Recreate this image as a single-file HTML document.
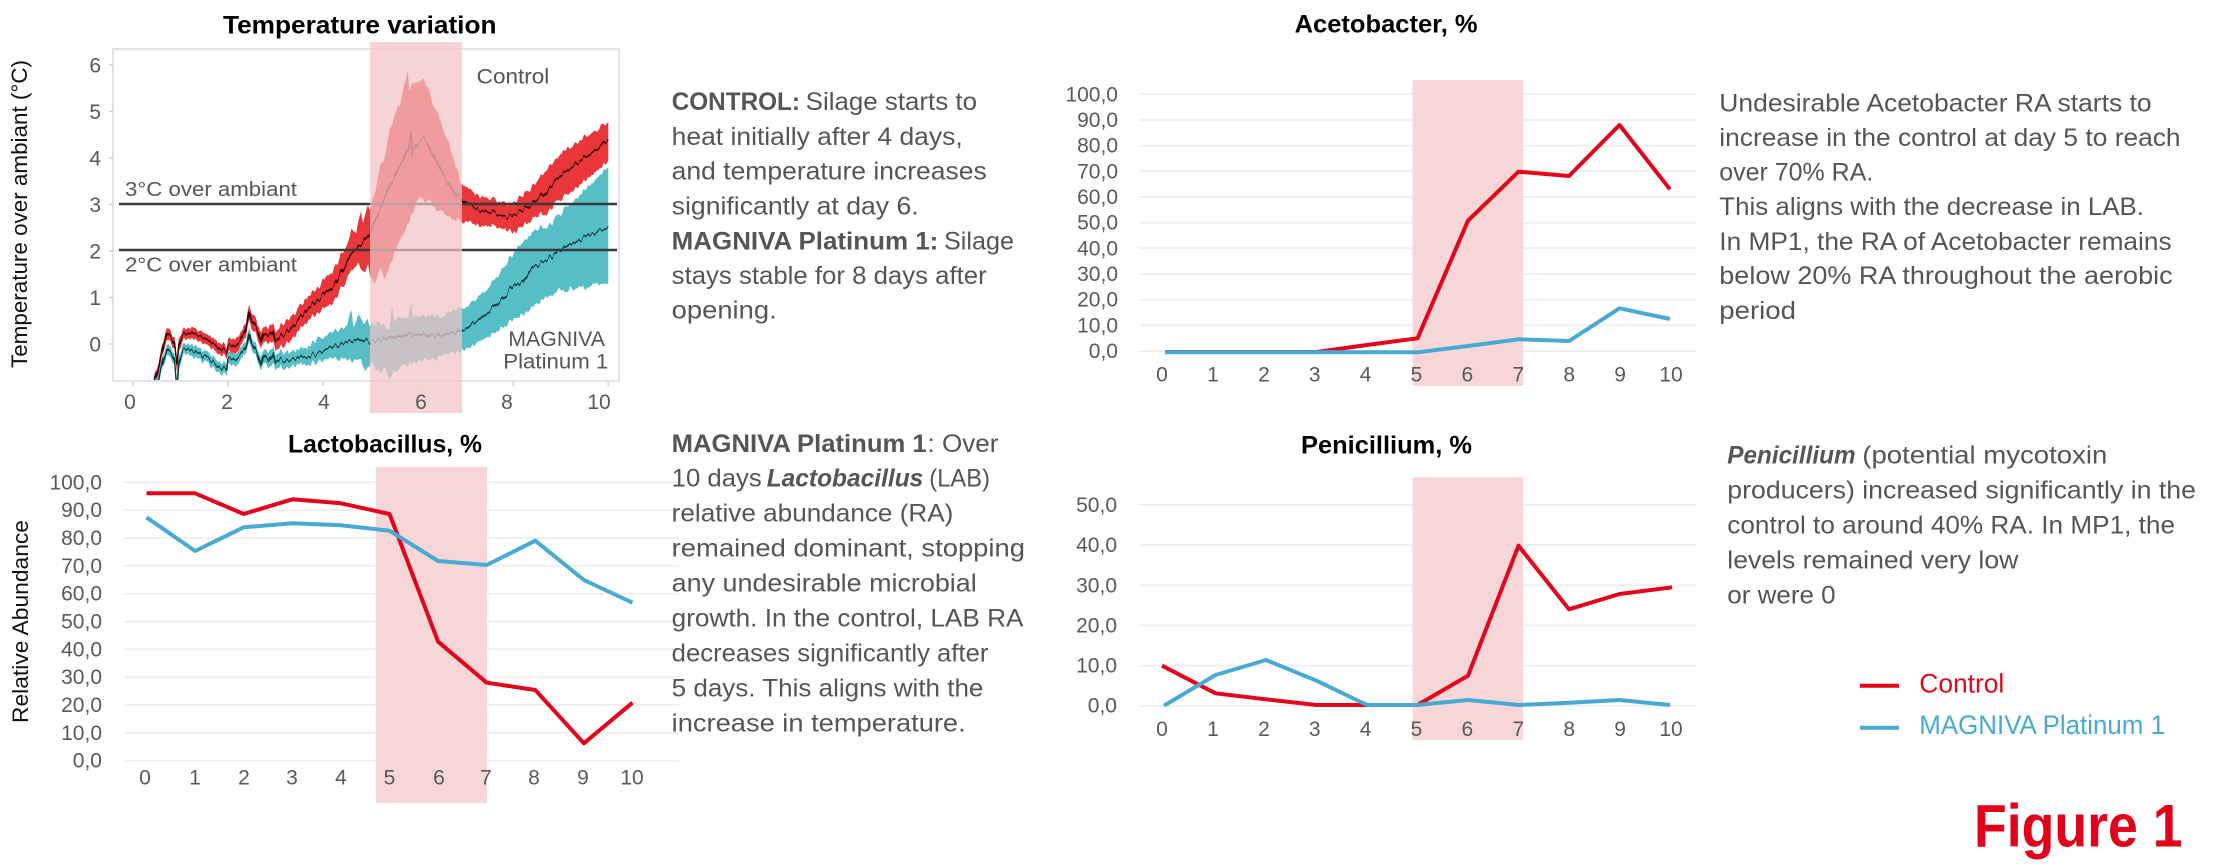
<!DOCTYPE html>
<html>
<head>
<meta charset="utf-8">
<style>
html,body{margin:0;padding:0;background:#ffffff;}
svg{display:block;}
</style>
</head>
<body>
<svg xmlns="http://www.w3.org/2000/svg" width="2224" height="866" viewBox="0 0 2224 866" font-family="'Liberation Sans', Arial, sans-serif">
<defs>
  <clipPath id="tclip" clipPathUnits="userSpaceOnUse">
    <rect x="114" y="50" width="504" height="330"/>
  </clipPath>
  <filter id="jag" x="-5%" y="-20%" width="110%" height="140%" color-interpolation-filters="sRGB">
    <feTurbulence type="fractalNoise" baseFrequency="0.35 0.012" numOctaves="1" seed="3" result="n"/>
    <feColorMatrix in="n" type="matrix" values="0 0 0 0 0.5  0 1 0 0 0  0 0 1 0 0  0 0 0 0 1" result="m"/>
    <feDisplacementMap in="SourceGraphic" in2="m" scale="12" xChannelSelector="R" yChannelSelector="G"/>
  </filter>
</defs>
<rect x="0" y="0" width="2224" height="866" fill="#ffffff"/>

<!-- ================= TEMPERATURE CHART ================= -->
<text x="223" y="33.3" font-size="25" font-weight="700" fill="#000" textLength="273.5" lengthAdjust="spacingAndGlyphs">Temperature variation</text>
<text transform="translate(27,214) rotate(-90)" text-anchor="middle" font-size="22" fill="#111" textLength="308" lengthAdjust="spacingAndGlyphs">Temperature over ambiant (°C)</text>

<rect x="113" y="49" width="506" height="332" fill="none" stroke="#e3e3e3" stroke-width="2"/>
<g stroke="#cfcfcf" stroke-width="1.5">
  <path d="M132.7 382V386 M227.8 382V386 M322.9 382V386 M418 382V386 M513.2 382V386 M608.3 382V386"/>
  <path d="M109 65H113 M109 111.5H113 M109 158H113 M109 204.5H113 M109 251H113 M109 297.5H113 M109 344H113"/>
</g>
<g font-size="21" fill="#595959" text-anchor="end">
  <text x="101" y="72.5">6</text>
  <text x="101" y="119">5</text>
  <text x="101" y="165.5">4</text>
  <text x="101" y="212">3</text>
  <text x="101" y="258.5">2</text>
  <text x="101" y="305">1</text>
  <text x="101" y="351.5">0</text>
</g>

<g clip-path="url(#tclip)">
 <g filter="url(#jag)">
  <g transform="translate(132.7 344) scale(47.56 -46.5)">
    <polygon fill="#e8363b" points="0.45,-0.75 0.55,-0.38 0.65,0.12 0.72,0.36 0.8,0.28 0.88,0.12 0.93,-0.25 0.97,0.12 1.05,0.3 1.15,0.36 1.3,0.34 1.5,0.24 1.7,0.12 1.9,0 1.98,-0.08 2,0.1 2.1,0.1 2.25,0.2 2.38,0.45 2.45,0.92 2.5,0.68 2.6,0.5 2.7,0.22 2.75,0.42 2.85,0.32 2.95,0.5 3,0.25 3.1,0.37 3.3,0.55 3.5,0.8 3.75,1.05 4,1.35 4.25,1.65 4.4,1.95 4.5,2.1 4.6,2.5 4.7,2.4 4.8,2.9 4.85,2.6 4.95,3 5,2.9 5.1,3.3 5.2,3.8 5.3,4 5.4,4.6 5.5,4.9 5.6,5.1 5.7,5.5 5.78,5.85 5.82,5.5 5.9,5.6 6,5.65 6.1,5.68 6.2,5.55 6.3,5.2 6.5,4.7 6.75,4 6.9,3.45 7,3.35 7.3,3.2 7.6,3.1 7.95,3.02 8.2,3.2 8.4,3.38 8.7,3.75 9,4.1 9.3,4.3 9.6,4.5 9.8,4.65 10,4.78 10,3.92 9.8,3.75 9.5,3.5 9.2,3.25 9,3.1 8.7,2.85 8.4,2.67 8.2,2.55 8.05,2.4 7.94,2.45 7.58,2.52 7.3,2.56 7,2.6 6.8,2.66 6.5,2.8 6.3,3 6.1,3.12 6,3.1 5.9,2.85 5.8,2.6 5.6,2.2 5.5,1.95 5.4,1.7 5.3,1.4 5.2,1.6 5.1,1.3 5,1.45 4.95,1.7 4.85,1.5 4.75,1.7 4.6,1.55 4.5,1.4 4.25,0.95 4,0.75 3.75,0.55 3.5,0.3 3.3,0.05 3.1,-0.07 3,-0.15 2.95,0.1 2.85,-0.02 2.75,0.08 2.7,-0.12 2.6,0.2 2.5,0.32 2.45,0.58 2.38,0.15 2.25,-0.1 2.1,-0.2 2,-0.2 1.98,-0.32 1.9,-0.24 1.7,-0.12 1.5,0 1.3,0.1 1.15,0.12 1.05,0.06 0.97,-0.12 0.93,-0.55 0.88,-0.12 0.8,0.02 0.72,0.1 0.65,-0.12 0.55,-0.62 0.45,-0.95"/>
    <polygon fill="#55bec6" points="0.45,-0.85 0.55,-0.62 0.65,-0.18 0.72,0 0.8,-0.08 0.88,-0.23 0.93,-0.8 0.97,-0.23 1.05,-0.03 1.15,0 1.3,-0.03 1.5,-0.15 1.7,-0.28 1.9,-0.4 1.98,-0.46 2,-0.22 2.1,-0.2 2.25,-0.12 2.38,0.03 2.45,0.4 2.5,0.12 2.6,-0.02 2.7,-0.3 2.75,-0.1 2.85,-0.22 2.95,-0.02 3,-0.25 3.1,-0.15 3.3,-0.17 3.5,-0.12 3.75,-0.02 3.9,0.15 4,0.12 4.2,0.28 4.35,0.3 4.5,0.4 4.6,0.7 4.65,0.35 4.75,0.6 4.85,0.45 4.95,0.5 5,0.4 5.2,0.45 5.4,0.3 5.45,0.85 5.5,0.5 5.7,0.6 5.8,0.55 5.85,0.95 5.9,0.6 6.2,0.6 6.5,0.6 6.8,0.75 7,0.8 7.3,1.05 7.6,1.38 8,1.95 8.3,2.3 8.5,2.45 8.8,2.6 9,2.8 9.3,3.1 9.6,3.4 9.8,3.6 10,3.81 10,1.3 9.7,1.25 9.4,1.2 9,1.16 8.7,1 8.5,0.87 8.3,0.7 8.1,0.59 7.9,0.45 7.6,0.23 7.3,0.05 7,-0.13 6.7,-0.2 6.4,-0.3 6.1,-0.35 5.8,-0.45 5.5,-0.55 5.4,-0.8 5.3,-0.45 5.2,-0.6 5,-0.4 4.9,-0.6 4.8,-0.3 4.6,-0.35 4.4,-0.3 4.2,-0.32 4,-0.35 3.75,-0.42 3.5,-0.45 3.3,-0.5 3.1,-0.48 3,-0.55 2.95,-0.38 2.85,-0.54 2.75,-0.4 2.7,-0.6 2.6,-0.28 2.5,-0.12 2.45,0.1 2.38,-0.22 2.25,-0.38 2.1,-0.46 2,-0.48 1.98,-0.7 1.9,-0.64 1.7,-0.52 1.5,-0.39 1.3,-0.27 1.15,-0.24 1.05,-0.27 0.97,-0.47 0.93,-1.1 0.88,-0.47 0.8,-0.32 0.72,-0.24 0.65,-0.42 0.55,-0.88 0.45,-1.15"/>
    <polyline fill="none" stroke="#3a0505" stroke-width="1.6" vector-effect="non-scaling-stroke" points="0.45,-0.85 0.55,-0.5 0.65,0 0.72,0.23 0.8,0.15 0.88,0 0.93,-0.4 0.97,0 1.05,0.18 1.15,0.24 1.3,0.22 1.5,0.12 1.7,0 1.9,-0.12 1.98,-0.2 2,-0.05 2.1,-0.05 2.25,0.05 2.38,0.3 2.45,0.75 2.5,0.5 2.6,0.35 2.7,0.05 2.75,0.25 2.85,0.15 2.95,0.3 3,0.05 3.1,0.15 3.3,0.3 3.5,0.55 3.75,0.8 4,1.05 4.25,1.3 4.5,1.75 4.6,1.95 4.7,2.05 4.85,2.2 5,2.4 5.2,2.9 5.4,3.4 5.6,3.8 5.8,4.2 5.85,4.6 5.88,4.1 6,4.35 6.1,4.45 6.2,4.3 6.4,3.9 6.6,3.5 6.8,3.2 7,3 7.3,2.9 7.58,2.81 7.86,2.74 8.07,2.81 8.42,3.02 8.7,3.3 8.98,3.6 9.34,3.89 9.7,4.15 10,4.39"/>
    <polyline fill="none" stroke="#063c3c" stroke-width="1.6" vector-effect="non-scaling-stroke" points="0.45,-1 0.55,-0.75 0.65,-0.3 0.72,-0.12 0.8,-0.2 0.88,-0.35 0.93,-0.95 0.97,-0.35 1.05,-0.15 1.15,-0.12 1.3,-0.15 1.5,-0.27 1.7,-0.4 1.9,-0.52 1.98,-0.58 2,-0.35 2.1,-0.33 2.25,-0.25 2.38,-0.1 2.45,0.25 2.5,0 2.6,-0.15 2.7,-0.45 2.75,-0.25 2.85,-0.38 2.95,-0.2 3,-0.4 3.1,-0.32 3.3,-0.35 3.5,-0.3 3.75,-0.25 4,-0.15 4.25,-0.05 4.5,0.05 4.75,0.1 5,0.05 5.2,0.1 5.5,0.15 5.8,0.2 6,0.2 6.3,0.18 6.6,0.2 7,0.32 7.3,0.55 7.58,0.8 8,1.23 8.2,1.35 8.42,1.66 8.7,1.8 8.98,2.02 9.5,2.3 10,2.52"/>
  </g>
 </g>
</g>
<path d="M119 204H617 M119 250H617" stroke="#3a3a3a" stroke-width="2.5"/>
<text x="125" y="196" font-size="20" fill="#555" textLength="172" lengthAdjust="spacingAndGlyphs">3°C over ambiant</text>
<text x="125" y="271.7" font-size="20" fill="#555" textLength="172" lengthAdjust="spacingAndGlyphs">2°C over ambiant</text>
<rect x="370" y="42" width="92" height="371" fill="rgb(242,196,198)" fill-opacity="0.72"/>
<text x="476.7" y="83.3" font-size="21" fill="#555" textLength="72.6" lengthAdjust="spacingAndGlyphs">Control</text>
<text x="508.3" y="346" font-size="21" fill="#555" textLength="96.7" lengthAdjust="spacingAndGlyphs">MAGNIVA</text>
<text x="503.3" y="368.3" font-size="21" fill="#555" textLength="105" lengthAdjust="spacingAndGlyphs">Platinum 1</text>
<g font-size="21" fill="#595959" text-anchor="middle">
  <text x="130" y="409">0</text>
  <text x="227" y="409">2</text>
  <text x="324" y="409">4</text>
  <text x="421" y="409">6</text>
  <text x="507" y="409">8</text>
  <text x="599" y="409">10</text>
</g>

<!-- ================= TEMPERATURE TEXT ================= -->
<g font-size="25" fill="#555555">
  <text x="671.7" y="110" font-weight="700" textLength="128.3" lengthAdjust="spacingAndGlyphs">CONTROL:</text>
  <text x="805.7" y="110" textLength="171.3" lengthAdjust="spacingAndGlyphs">Silage starts to</text>
  <text x="671.7" y="145" textLength="291" lengthAdjust="spacingAndGlyphs">heat initially after 4 days,</text>
  <text x="671.7" y="179.5" textLength="315" lengthAdjust="spacingAndGlyphs">and temperature increases</text>
  <text x="671.7" y="214.5" textLength="247" lengthAdjust="spacingAndGlyphs">significantly at day 6.</text>
  <text x="671.7" y="249.3" font-weight="700" textLength="266.6" lengthAdjust="spacingAndGlyphs">MAGNIVA Platinum 1:</text>
  <text x="944" y="249.3" textLength="70" lengthAdjust="spacingAndGlyphs">Silage</text>
  <text x="671.7" y="284" textLength="315" lengthAdjust="spacingAndGlyphs">stays stable for 8 days after</text>
  <text x="671.7" y="318.3" textLength="105" lengthAdjust="spacingAndGlyphs">opening.</text>
</g>

<!-- ================= LACTOBACILLUS CHART ================= -->
<text x="288" y="452.3" font-size="25" font-weight="700" fill="#000" textLength="194" lengthAdjust="spacingAndGlyphs">Lactobacillus, %</text>
<text transform="translate(28,621.5) rotate(-90)" text-anchor="middle" font-size="22" fill="#111" textLength="203" lengthAdjust="spacingAndGlyphs">Relative Abundance</text>
<path d="M124 760.7H679 M124 732.9H679 M124 705H679 M124 677.2H679 M124 649.3H679 M124 621.5H679 M124 593.7H679 M124 565.8H679 M124 538H679 M124 510.1H679 M124 482.3H679" stroke="#efefef" stroke-width="2"/>
<rect x="376" y="467" width="111" height="336" fill="#f6d6d7"/>
<g font-size="21" fill="#595959" text-anchor="end">
  <text x="102" y="767.7">0,0</text>
  <text x="102" y="739.9">10,0</text>
  <text x="102" y="712">20,0</text>
  <text x="102" y="684.2">30,0</text>
  <text x="102" y="656.3">40,0</text>
  <text x="102" y="628.5">50,0</text>
  <text x="102" y="600.7">60,0</text>
  <text x="102" y="572.8">70,0</text>
  <text x="102" y="545">80,0</text>
  <text x="102" y="517.1">90,0</text>
  <text x="102" y="489.3">100,0</text>
</g>
<g font-size="21" fill="#595959" text-anchor="middle">
  <text x="145" y="784.5">0</text>
  <text x="195" y="784.5">1</text>
  <text x="244" y="784.5">2</text>
  <text x="292" y="784.5">3</text>
  <text x="341" y="784.5">4</text>
  <text x="389.5" y="784.5">5</text>
  <text x="439" y="784.5">6</text>
  <text x="486" y="784.5">7</text>
  <text x="534" y="784.5">8</text>
  <text x="583" y="784.5">9</text>
  <text x="632" y="784.5">10</text>
</g>
<polyline fill="none" stroke="#e3051b" stroke-width="4" stroke-linejoin="round" points="146.5,493.3 195.1,493.3 243.7,514 292.3,499.3 340.9,503.3 389.5,514 438.1,641.7 486.7,682.7 535.3,690 583.9,743.3 632.5,702.7"/>
<polyline fill="none" stroke="#48aad0" stroke-width="4" stroke-linejoin="round" points="146.5,517.3 195.1,551 243.7,527.3 292.3,523.3 340.9,525.3 389.5,530.7 438.1,561 486.7,565 535.3,540.7 583.9,580 632.5,602.7"/>

<!-- ================= LACTOBACILLUS TEXT ================= -->
<g font-size="25" fill="#555555">
  <text x="671.7" y="452" font-weight="700" textLength="255" lengthAdjust="spacingAndGlyphs">MAGNIVA Platinum 1</text>
  <text x="927.5" y="452" textLength="71" lengthAdjust="spacingAndGlyphs">: Over</text>
  <text x="671.7" y="486.7" textLength="90" lengthAdjust="spacingAndGlyphs">10 days</text>
  <text x="766.7" y="486.7" font-weight="700" font-style="italic" textLength="156.6" lengthAdjust="spacingAndGlyphs">Lactobacillus</text>
  <text x="929.3" y="486.7" textLength="60.7" lengthAdjust="spacingAndGlyphs">(LAB)</text>
  <text x="671.7" y="521.7" textLength="281.7" lengthAdjust="spacingAndGlyphs">relative abundance (RA)</text>
  <text x="671.7" y="556.7" textLength="353.3" lengthAdjust="spacingAndGlyphs">remained dominant, stopping</text>
  <text x="671.7" y="591.7" textLength="305" lengthAdjust="spacingAndGlyphs">any undesirable microbial</text>
  <text x="671.7" y="626.7" textLength="351.7" lengthAdjust="spacingAndGlyphs">growth. In the control, LAB RA</text>
  <text x="671.7" y="661.7" textLength="316.7" lengthAdjust="spacingAndGlyphs">decreases significantly after</text>
  <text x="671.7" y="696.7" textLength="311.7" lengthAdjust="spacingAndGlyphs">5 days. This aligns with the</text>
  <text x="671.7" y="731.7" textLength="294" lengthAdjust="spacingAndGlyphs">increase in temperature.</text>
</g>

<!-- ================= ACETOBACTER CHART ================= -->
<text x="1294.6" y="32.3" font-size="25" font-weight="700" fill="#000" textLength="183" lengthAdjust="spacingAndGlyphs">Acetobacter, %</text>
<path d="M1139 351H1696 M1139 325.3H1696 M1139 299.7H1696 M1139 274H1696 M1139 248.3H1696 M1139 222.7H1696 M1139 197H1696 M1139 171.3H1696 M1139 145.6H1696 M1139 120H1696 M1139 94.3H1696" stroke="#efefef" stroke-width="2"/>
<rect x="1412.5" y="80" width="110.5" height="306" fill="#f6d6d7"/>
<g font-size="21" fill="#595959" text-anchor="end">
  <text x="1118" y="358">0,0</text>
  <text x="1118" y="332.3">10,0</text>
  <text x="1118" y="306.7">20,0</text>
  <text x="1118" y="281">30,0</text>
  <text x="1118" y="255.3">40,0</text>
  <text x="1118" y="229.6">50,0</text>
  <text x="1118" y="204">60,0</text>
  <text x="1118" y="178.3">70,0</text>
  <text x="1118" y="152.6">80,0</text>
  <text x="1118" y="127">90,0</text>
  <text x="1118" y="101.3">100,0</text>
</g>
<g font-size="21" fill="#595959" text-anchor="middle">
  <text x="1162" y="381.5">0</text>
  <text x="1213" y="381.5">1</text>
  <text x="1264" y="381.5">2</text>
  <text x="1314.7" y="381.5">3</text>
  <text x="1365.6" y="381.5">4</text>
  <text x="1416.5" y="381.5">5</text>
  <text x="1467.4" y="381.5">6</text>
  <text x="1518.3" y="381.5">7</text>
  <text x="1569.2" y="381.5">8</text>
  <text x="1620.1" y="381.5">9</text>
  <text x="1671" y="381.5">10</text>
</g>
<polyline fill="none" stroke="#e3051b" stroke-width="4" stroke-linejoin="round" points="1165,352 1215.5,352 1266,352 1316.5,352 1367,345 1417.5,338.3 1468,220.7 1518.5,171.7 1569,176 1619.5,125 1670,189.3"/>
<polyline fill="none" stroke="#48aad0" stroke-width="4" stroke-linejoin="round" points="1165,352.3 1215.5,352.3 1266,352.3 1316.5,352.3 1367,352.3 1417.5,352.3 1468,346 1518.5,339.3 1569,341 1619.5,308.3 1670,319"/>

<!-- ================= ACETOBACTER TEXT ================= -->
<g font-size="25" fill="#555555">
  <text x="1719.3" y="111.7" textLength="432.3" lengthAdjust="spacingAndGlyphs">Undesirable Acetobacter RA starts to</text>
  <text x="1719.3" y="146" textLength="461.3" lengthAdjust="spacingAndGlyphs">increase in the control at day 5 to reach</text>
  <text x="1719.3" y="180.7" textLength="154" lengthAdjust="spacingAndGlyphs">over 70% RA.</text>
  <text x="1719.3" y="215" textLength="424.7" lengthAdjust="spacingAndGlyphs">This aligns with the decrease in LAB.</text>
  <text x="1719.3" y="250" textLength="452.3" lengthAdjust="spacingAndGlyphs">In MP1, the RA of Acetobacter remains</text>
  <text x="1719.3" y="284" textLength="453.3" lengthAdjust="spacingAndGlyphs">below 20% RA throughout the aerobic</text>
  <text x="1719.3" y="319" textLength="76.7" lengthAdjust="spacingAndGlyphs">period</text>
</g>

<!-- ================= PENICILLIUM CHART ================= -->
<text x="1301" y="453.3" font-size="25" font-weight="700" fill="#000" textLength="171" lengthAdjust="spacingAndGlyphs">Penicillium, %</text>
<path d="M1139 705.7H1696 M1139 665.6H1696 M1139 625.4H1696 M1139 585.3H1696 M1139 545.1H1696 M1139 505H1696" stroke="#efefef" stroke-width="2"/>
<rect x="1412.5" y="477.3" width="110.5" height="262.7" fill="#f6d6d7"/>
<g font-size="21" fill="#595959" text-anchor="end">
  <text x="1117" y="712.7">0,0</text>
  <text x="1117" y="672.6">10,0</text>
  <text x="1117" y="632.4">20,0</text>
  <text x="1117" y="592.3">30,0</text>
  <text x="1117" y="552.1">40,0</text>
  <text x="1117" y="512">50,0</text>
</g>
<g font-size="21" fill="#595959" text-anchor="middle">
  <text x="1162" y="736">0</text>
  <text x="1213" y="736">1</text>
  <text x="1264" y="736">2</text>
  <text x="1314.7" y="736">3</text>
  <text x="1365.6" y="736">4</text>
  <text x="1416.5" y="736">5</text>
  <text x="1467.4" y="736">6</text>
  <text x="1518.3" y="736">7</text>
  <text x="1569.2" y="736">8</text>
  <text x="1620.1" y="736">9</text>
  <text x="1671" y="736">10</text>
</g>
<polyline fill="none" stroke="#e3051b" stroke-width="4" stroke-linejoin="round" points="1162,665.7 1215.5,693.3 1266,699.3 1316.5,705 1367,705 1417.5,705 1468,675.7 1518.5,545.7 1569,609.3 1619.5,594 1672,587.3"/>
<polyline fill="none" stroke="#48aad0" stroke-width="4" stroke-linejoin="round" points="1164,705.7 1215.5,675 1266,660 1316.5,680.7 1367,705 1417.5,705 1468,700 1518.5,705 1569,702.7 1619.5,700 1670,705"/>

<!-- ================= PENICILLIUM TEXT ================= -->
<g font-size="25" fill="#555555">
  <text x="1727.3" y="463.3" font-weight="700" font-style="italic" textLength="128.3" lengthAdjust="spacingAndGlyphs">Penicillium</text>
  <text x="1862.3" y="463.3" textLength="245" lengthAdjust="spacingAndGlyphs">(potential mycotoxin</text>
  <text x="1727.3" y="498.3" textLength="468.7" lengthAdjust="spacingAndGlyphs">producers) increased significantly in the</text>
  <text x="1727.3" y="533.3" textLength="447.7" lengthAdjust="spacingAndGlyphs">control to around 40% RA. In MP1, the</text>
  <text x="1727.3" y="568.3" textLength="291" lengthAdjust="spacingAndGlyphs">levels remained very low</text>
  <text x="1727.3" y="603.3" textLength="108.3" lengthAdjust="spacingAndGlyphs">or were 0</text>
</g>

<!-- ================= LEGEND ================= -->
<path d="M1860 685.7H1899" stroke="#e3051b" stroke-width="4"/>
<text x="1919.3" y="692.7" font-size="26.5" fill="#e3051b" textLength="85" lengthAdjust="spacingAndGlyphs">Control</text>
<path d="M1860 727.7H1899" stroke="#48aad0" stroke-width="4"/>
<text x="1919.3" y="734" font-size="26.5" fill="#48aad0" textLength="245.7" lengthAdjust="spacingAndGlyphs">MAGNIVA Platinum 1</text>

<!-- ================= FIGURE LABEL ================= -->
<text x="1974" y="846.7" font-size="60" font-weight="700" fill="#e2001a" textLength="208.6" lengthAdjust="spacingAndGlyphs">Figure 1</text>
</svg>
</body>
</html>
